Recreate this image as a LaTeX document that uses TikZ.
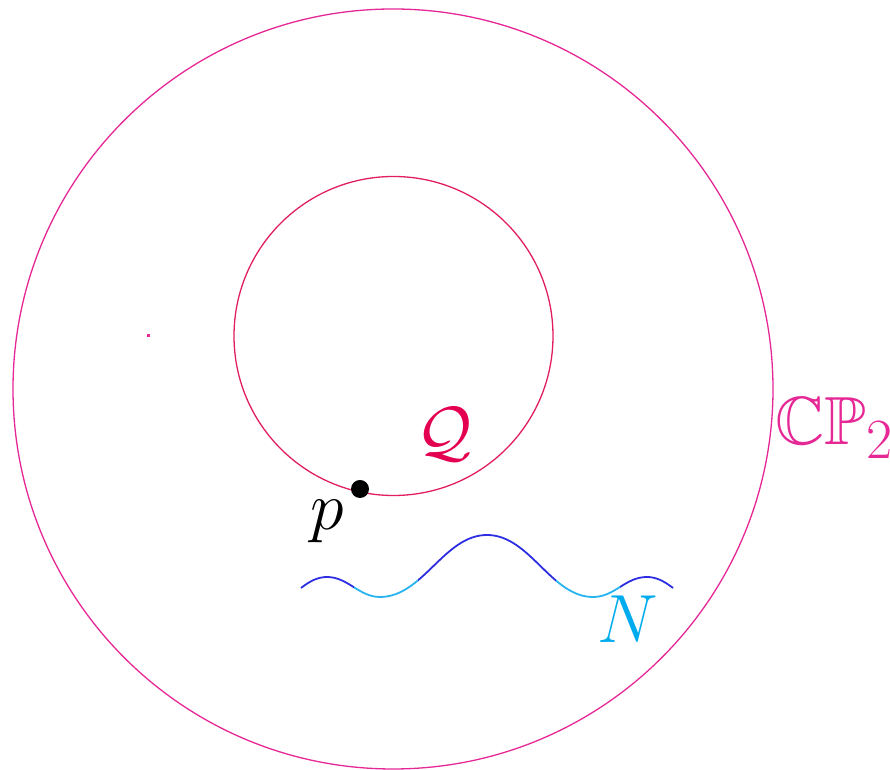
\documentclass[tikz,border=0pt]{standalone}
\usepackage{amsmath,amssymb}
\definecolor{outerc}{RGB}{230,40,150}
\definecolor{innerc}{RGB}{225,30,95}
\definecolor{qc}{RGB}{228,0,80}
\definecolor{nc}{RGB}{0,172,238}
\definecolor{wavedark}{RGB}{45,45,225}
\definecolor{wavelight}{RGB}{40,180,240}
\tikzset{
  lbl/.style={inner sep=0pt, font=\Huge, scale=1.37},
  wave/.style={line width=0.9pt},
}
\begin{document}
\begin{tikzpicture}[x=0.5pt,y=0.5pt]
\useasboundingbox (0,0) rectangle (890,770);
% circles
\draw[outerc, line width=0.65pt] (393,381) circle[radius=380];
\draw[innerc, line width=0.65pt] (393.5,434) circle[radius=159.5];
\fill[outerc] (146.5,432.5) rectangle (149.5,435.5);
% point p
\node[circle, fill=black, minimum size=9pt, inner sep=0pt] (pdot) at (360,281) {};
\node[lbl, anchor=base] (plabel) at (327,240) {$p$};
% labels
\node[lbl, anchor=base, text=qc] (qlabel) at (444,315) {$\mathcal{Q}$};
\node[lbl, anchor=base west, text=outerc] (cplabel) at (775,325) {$\mathbb{CP}_2$};
\node[lbl, anchor=base, text=nc] (nlabel) at (628,127) {$N$};
% wave
\def\wavepath{(301,182) .. controls (310,189) and (318,193) .. (327,193)
  .. controls (348,193) and (359,173) .. (380,173)
  .. controls (423,173) and (444,235) .. (487,235)
  .. controls (530,235) and (551,173) .. (593,173)
  .. controls (615,173) and (625,193) .. (647,193)
  .. controls (656,193) and (664,189) .. (673,182)}
\begin{scope}
  \clip (290,150) rectangle (354,260) (418,150) rectangle (556,260) (620,150) rectangle (690,260);
  \draw[wave, wavedark] \wavepath;
\end{scope}
\begin{scope}
  \clip (354,150) rectangle (418,260) (556,150) rectangle (620,260);
  \draw[wave, wavelight] \wavepath;
\end{scope}
\end{tikzpicture}
\end{document}
